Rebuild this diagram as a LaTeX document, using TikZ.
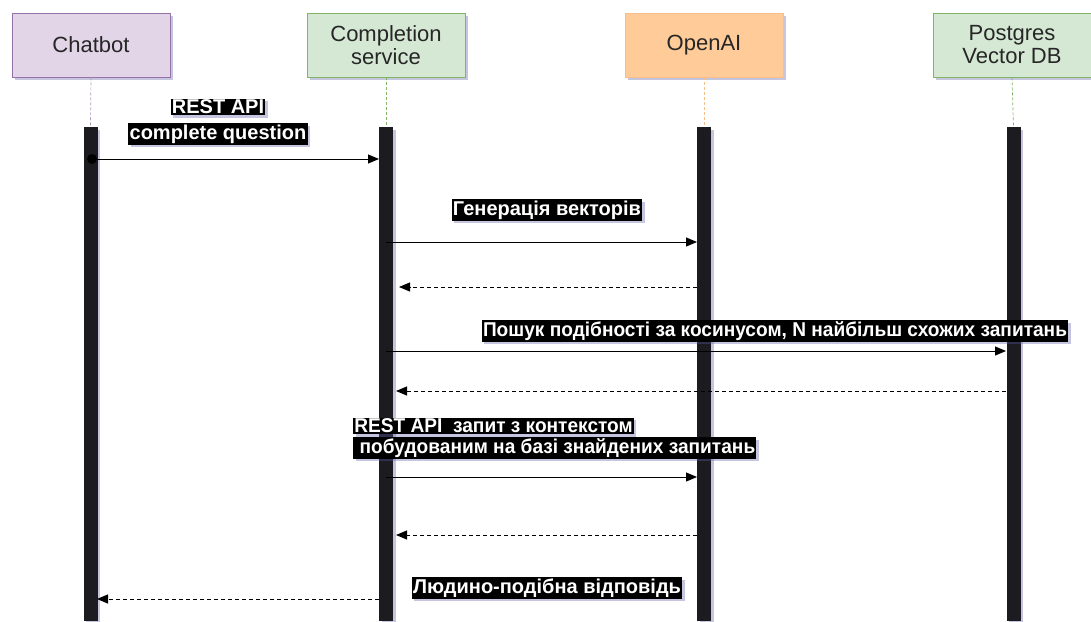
\documentclass[tikz,border=0pt]{standalone}
\usepackage{fontspec}
\setmainfont{Liberation Sans}
\usetikzlibrary{shadows,arrows.meta}
\definecolor{pfill}{HTML}{E1D5E7}
\definecolor{pdraw}{HTML}{9673A6}
\definecolor{gfill}{HTML}{D5E8D4}
\definecolor{gdraw}{HTML}{82B366}
\definecolor{ofill}{HTML}{FFCC99}
\definecolor{odraw}{HTML}{F5BE8A}
\definecolor{barc}{HTML}{1C1B20}
\newcommand{\narrowtxt}[1]{\scalebox{0.955}[1]{#1}}
\begin{document}
\begin{tikzpicture}[x=1pt,y=-1pt,
  shd/.style={drop shadow={shadow xshift=2.5pt,shadow yshift=-2.5pt,opacity=0.35,fill=gray!70!blue}},
  head/.style={draw,line width=0.8pt,minimum width=158pt,minimum height=64pt,align=center,
    font=\fontsize{22}{23}\selectfont,text=black!85,shd},
  bar/.style={fill=barc,draw=none,minimum width=14pt,minimum height=494pt,inner sep=0pt,anchor=north,shd},
  life/.style={dashed,line width=0.7pt,dash pattern=on 3pt off 2pt},
  lbl/.style={fill=black,text=white,inner sep=1.2pt,font=\bfseries\fontsize{20}{22}\selectfont,shd},
  msg/.style={line width=1pt,-{Triangle[length=11pt,width=9pt]}},
  ret/.style={msg,dashed,dash pattern=on 4pt off 3pt}]
\useasboundingbox (0,0) rectangle (1091,621);
\fill[white] (0,0) rectangle (1091,621);
% headers
\node[head,fill=pfill,draw=pdraw] (chat) at (91,45) {Chatbot};
\node[head,fill=gfill,draw=gdraw] (comp) at (386,45) {Completion\\service};
\node[head,fill=ofill,draw=odraw] (oai) at (704,45) {OpenAI};
\node[head,fill=gfill,draw=gdraw] (pg) at (1012,45) {Postgres\\Vector DB};
% bars
\node[bar] (bchat) at (90.5,127) {};
\node[bar] (bcomp) at (386,127) {};
\node[bar] (boai) at (704,127) {};
\node[bar] (bpg) at (1013.5,127) {};
% lifelines
\draw[life,draw=pdraw!70] (chat.south) -- (bchat.north);
\draw[life,draw=gdraw] (comp.south) -- (bcomp.north);
\draw[life,draw=odraw] (oai.south) -- (boai.north);
\draw[life,draw=gdraw] (pg.south) -- (bpg.north);
% message coordinates
\coordinate (m1a) at (92,159);   \coordinate (m1b) at (379,159);
\coordinate (m2a) at (386,242);  \coordinate (m2b) at (697,242);
\coordinate (r2a) at (697,287);  \coordinate (r2b) at (399,287);
\coordinate (m3a) at (386,351);  \coordinate (m3b) at (1006,351);
\coordinate (r3a) at (1006,391); \coordinate (r3b) at (396,391);
\coordinate (m4a) at (386,477);  \coordinate (m4b) at (697,477);
\coordinate (r4a) at (697,535);  \coordinate (r4b) at (396,535);
\coordinate (r5a) at (379,599);  \coordinate (r5b) at (97,599);
% messages
\fill (m1a) circle (5);
\draw[msg] (m1a) -- (m1b);
\draw[msg] (m2a) -- (m2b);
\draw[ret] (r2a) -- (r2b);
\draw[msg] (m3a) -- (m3b);
\draw[ret] (r3a) -- (r3b);
\draw[msg] (m4a) -- (m4b);
\draw[ret] (r4a) -- (r4b);
\draw[ret] (r5a) -- (r5b);
% labels
\node[lbl] (l1a) at (218,107) {REST API};
\node[lbl] (l1b) at (218,134) {complete question};
\node[lbl] (l2) at (547,210) {Генерація векторів};
\node[lbl] (l3) at (775,331) {\narrowtxt{Пошук подібності за косинусом, N найбільш схожих запитань}};
\node[lbl,anchor=west] (l4a) at (353,426) {\narrowtxt{REST API\ \ запит з контекстом}};
\node[lbl,anchor=west] (l4b) at (353,448) {\narrowtxt{\ побудованим на базі знайдених запитань}};
\node[lbl] (l5) at (547,588) {Людино-подібна відповідь};
\end{tikzpicture}
\end{document}
